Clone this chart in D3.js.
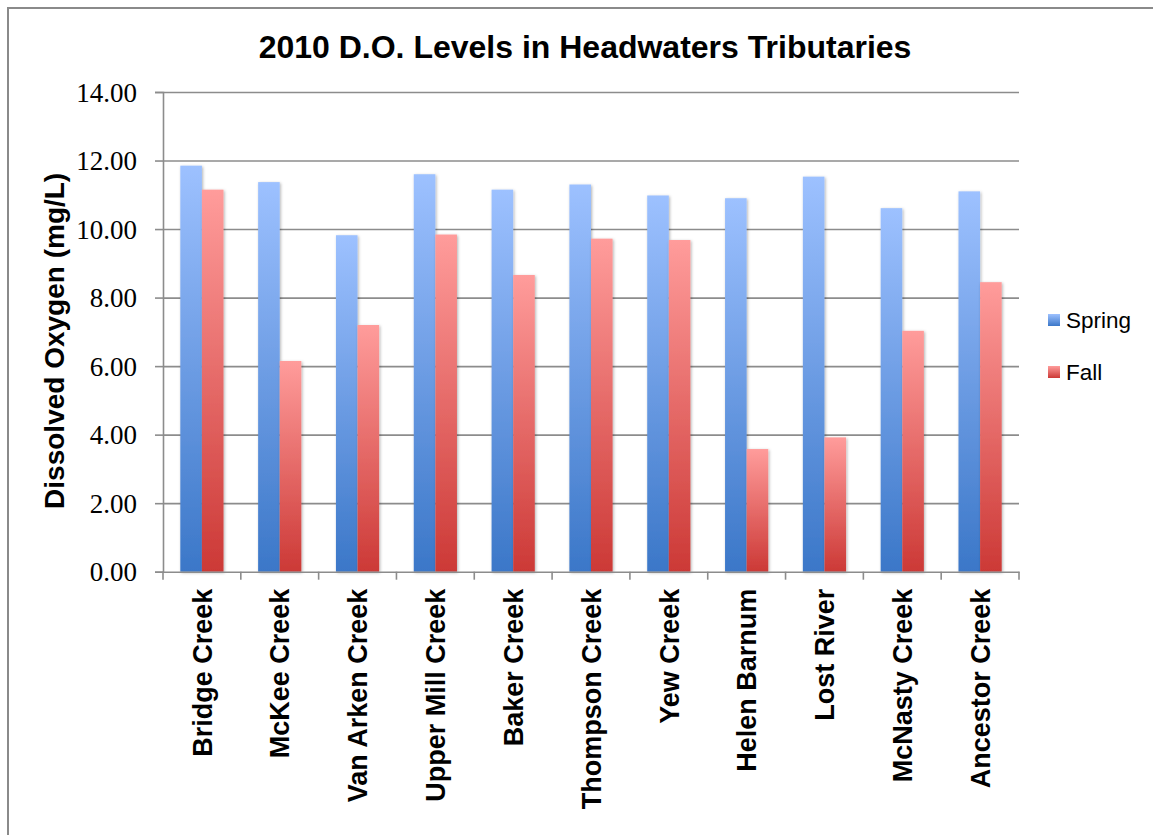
<!DOCTYPE html>
<html>
<head>
<meta charset="utf-8">
<script src="https://cdn.jsdelivr.net/npm/d3@7"></script>
<style>
  html, body { margin: 0; padding: 0; background: #fff; }
  svg { display: block; }
</style>
</head>
<body>
<svg id="chart" width="1153" height="835"></svg>
<script>
// Dissolved oxygen readings (mg/L) for each tributary, spring and fall 2010
const creeks = ["Bridge Creek", "McKee Creek", "Van Arken Creek", "Upper Mill Creek", "Baker Creek",
  "Thompson Creek", "Yew Creek", "Helen Barnum", "Lost River", "McNasty Creek", "Ancestor Creek"];
const springDO = [11.85, 11.37, 9.82, 11.60, 11.15, 11.30, 10.98, 10.90, 11.53, 10.61, 11.10];
const fallDO = [11.15, 6.15, 7.20, 9.84, 8.66, 9.72, 9.68, 3.58, 3.92, 7.03, 8.45];
const seriesNames = ["Spring", "Fall"];
const yTicks = [0, 2, 4, 6, 8, 10, 12, 14];

const svg = d3.select("#chart");
const W = 1153, H = 835;
const plot = { left: 163, right: 1019, top: 92, bottom: 571.7 };

// Outer chart frame
svg.append("rect")
  .attr("x", 8).attr("y", 8).attr("width", W + 20).attr("height", H + 20)
  .attr("fill", "#fff").attr("stroke", "#8a8a8a").attr("stroke-width", 2);

const defs = svg.append("defs");
const gradStops = {
  Spring: ["#9dc1ff", "#3b77c8"],
  Fall: ["#ff9c9b", "#cc3936"]
};
seriesNames.forEach(s => {
  const g = defs.append("linearGradient").attr("id", "grad-" + s)
    .attr("x1", 0).attr("y1", 0).attr("x2", 0).attr("y2", 1);
  g.append("stop").attr("offset", "0%").attr("stop-color", gradStops[s][0]);
  g.append("stop").attr("offset", "100%").attr("stop-color", gradStops[s][1]);
});
const shadow = defs.append("filter").attr("id", "barShadow")
  .attr("x", "-30%").attr("y", "-10%").attr("width", "160%").attr("height", "120%");
shadow.append("feDropShadow").attr("dx", 1).attr("dy", 1).attr("stdDeviation", 1.8)
  .attr("flood-color", "#000").attr("flood-opacity", 0.3);

const x = d3.scaleBand().domain(creeks).range([plot.left, plot.right]).padding(0);
const groupW = x.bandwidth() * 0.555;
const x1 = d3.scaleBand().domain(seriesNames)
  .range([(x.bandwidth() - groupW) / 2, (x.bandwidth() + groupW) / 2]).padding(0);
const y = d3.scaleLinear().domain([0, 14]).range([plot.bottom, plot.top]);

// Horizontal gridlines
const grid = svg.append("g").attr("transform", `translate(${plot.left},0)`)
  .call(d3.axisLeft(y).tickValues(yTicks.filter(d => d > 0)).tickSize(-(plot.right - plot.left)).tickFormat(""));
grid.select(".domain").remove();
grid.selectAll("line").attr("stroke", "#8c8c8c").attr("stroke-width", 1.6);

// Bars
const rows = creeks.map((c, i) => ({ creek: c, values: [
  { series: "Spring", value: springDO[i] },
  { series: "Fall", value: fallDO[i] }
]}));
const groups = svg.append("g").selectAll("g").data(rows).join("g")
  .attr("transform", d => `translate(${x(d.creek)},0)`);
groups.selectAll("rect").data(d => d.values).join("rect")
  .attr("x", d => x1(d.series))
  .attr("width", x1.bandwidth())
  .attr("y", d => y(d.value))
  .attr("height", d => y(0) - y(d.value))
  .attr("fill", d => `url(#grad-${d.series})`)
  .attr("filter", "url(#barShadow)");

// Y axis
const yAxis = svg.append("g").attr("transform", `translate(${plot.left},0)`)
  .call(d3.axisLeft(y).tickValues(yTicks).tickSize(8).tickPadding(18).tickFormat(d => d.toFixed(2)));
yAxis.select(".domain").attr("stroke", "#8c8c8c").attr("stroke-width", 1.6);
yAxis.selectAll(".tick line").attr("stroke", "#8c8c8c").attr("stroke-width", 1.6);
yAxis.selectAll(".tick text")
  .attr("font-family", "'Liberation Serif', 'Times New Roman', serif")
  .attr("font-size", 27).attr("fill", "#000").attr("dy", "0.34em");

// X axis: baseline, category boundary ticks, rotated labels
const xAxis = svg.append("g").attr("transform", `translate(0,${plot.bottom})`)
  .call(d3.axisBottom(x).tickSize(0).tickPadding(0));
xAxis.select(".domain").attr("stroke", "#8c8c8c").attr("stroke-width", 1.6);
xAxis.selectAll(".tick text")
  .attr("font-family", "'Liberation Sans', Arial, sans-serif")
  .attr("font-weight", "bold").attr("font-size", 27).attr("fill", "#000")
  .attr("text-anchor", "end")
  .attr("transform", "translate(0,17) rotate(-90)")
  .attr("x", 0).attr("y", 0).attr("dy", "0.36em");
const boundaries = creeks.map(c => x(c)).concat([x.range()[1]]);
xAxis.selectAll("line.bound").data(boundaries).join("line").attr("class", "bound")
  .attr("x1", d => d).attr("x2", d => d).attr("y1", 0).attr("y2", 8)
  .attr("stroke", "#8c8c8c").attr("stroke-width", 1.6);

// Title
svg.append("text")
  .attr("x", 585).attr("y", 58)
  .attr("text-anchor", "middle")
  .attr("font-family", "'Liberation Sans', Arial, sans-serif")
  .attr("font-weight", "bold").attr("font-size", 32).attr("fill", "#000")
  .text("2010 D.O. Levels in Headwaters Tributaries");

// Y axis title
svg.append("text")
  .attr("transform", `translate(64,${(plot.top + plot.bottom) / 2 + 9}) rotate(-90)`)
  .attr("text-anchor", "middle")
  .attr("font-family", "'Liberation Sans', Arial, sans-serif")
  .attr("font-weight", "bold").attr("font-size", 28).attr("fill", "#000")
  .text("Dissolved Oxygen (mg/L)");

// Legend
const legend = svg.append("g").selectAll("g").data(seriesNames).join("g")
  .attr("transform", (d, i) => `translate(1048,${328 + i * 52})`);
legend.append("rect")
  .attr("x", 0).attr("y", -14).attr("width", 12).attr("height", 12)
  .attr("fill", d => `url(#grad-${d})`);
legend.append("text")
  .attr("x", 18).attr("y", 0)
  .attr("font-family", "'Liberation Sans', Arial, sans-serif")
  .attr("font-size", 22.5).attr("fill", "#000")
  .text(d => d);
</script>
</body>
</html>
